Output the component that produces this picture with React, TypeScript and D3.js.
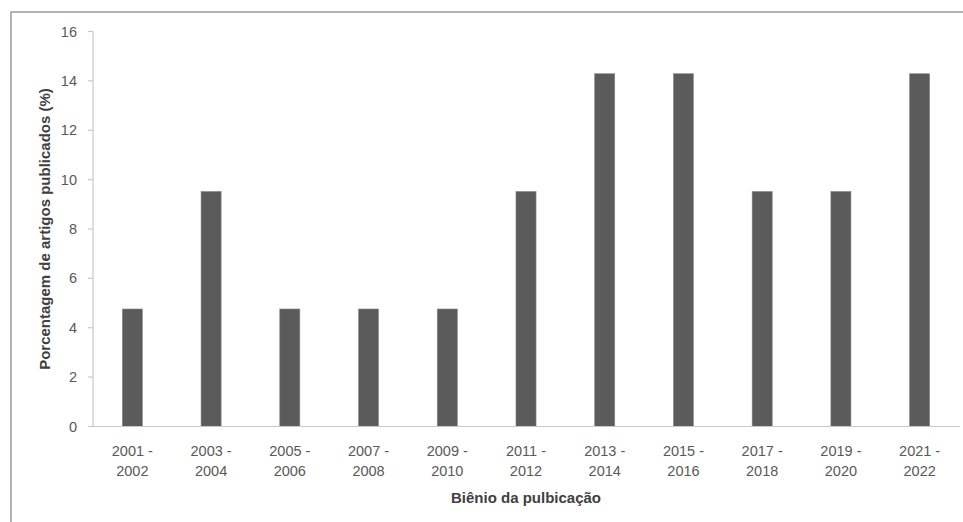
import React from "react";
import * as d3 from "d3";

const categories = [
  ["2001 -", "2002"],
  ["2003 -", "2004"],
  ["2005 -", "2006"],
  ["2007 -", "2008"],
  ["2009 -", "2010"],
  ["2011 -", "2012"],
  ["2013 -", "2014"],
  ["2015 -", "2016"],
  ["2017 -", "2018"],
  ["2019 -", "2020"],
  ["2021 -", "2022"],
];
const values = [4.76, 9.52, 4.76, 4.76, 4.76, 9.52, 14.29, 14.29, 9.52, 9.52, 14.29];
const yTicks = [0, 2, 4, 6, 8, 10, 12, 14, 16];
const xTitle = "Biênio da pulbicação";
const yTitle = "Porcentagem de artigos publicados (%)";

const W = 963;
const H = 522;
const left = 93;
const right = 959;
const top = 31.5;
const bottom = 426.5;
const FONT = "'Liberation Sans', Arial, sans-serif";

export default function App() {
  const keys = categories.map((c) => c.join(" "));
  const x = d3
    .scaleBand<string>()
    .domain(keys)
    .range([left, right])
    .paddingInner(0.745)
    .paddingOuter(0.3725);
  const y = d3.scaleLinear().domain([0, 16]).range([bottom, top]);

  return (
    <svg
      width={W}
      height={H}
      style={{ position: "absolute", left: 0, top: 0, background: "#fff" }}
      fontFamily={FONT}
    >
      <rect x={11} y={12} width={1100} height={700} fill="#fff" stroke="#9a9a9a" strokeWidth={1.5} />
      {/* y axis */}
      <line x1={left} x2={left} y1={top} y2={bottom} stroke="#c8c8c8" strokeWidth={1.2} />
      {yTicks.map((t) => (
        <g key={t}>
          <line x1={left - 5} x2={left} y1={y(t)} y2={y(t)} stroke="#c8c8c8" strokeWidth={1.2} />
          <text x={77} y={y(t)} dy="0.35em" textAnchor="end" fontSize={14.5} fill="#595959">
            {t}
          </text>
        </g>
      ))}
      {/* bars */}
      {values.map((v, i) => (
        <rect
          key={i}
          x={x(keys[i])}
          y={y(v)}
          width={x.bandwidth()}
          height={y(0) - y(v)}
          fill="#5b5b5b"
          stroke="#8a8a8a"
          strokeWidth={0.6}
        />
      ))}
      {/* x axis */}
      <line x1={left} x2={right + 1} y1={bottom} y2={bottom} stroke="#c8c8c8" strokeWidth={1.2} />
      {categories.map((c, i) => {
        const cx = (x(keys[i]) as number) + x.bandwidth() / 2;
        return (
          <text key={i} x={cx} textAnchor="middle" fontSize={14.5} fill="#595959">
            <tspan x={cx} y={455.5}>{c[0]}</tspan>
            <tspan x={cx} y={475.5}>{c[1]}</tspan>
          </text>
        );
      })}
      <text
        x={(left + right) / 2}
        y={503}
        textAnchor="middle"
        fontSize={15}
        fontWeight="bold"
        fill="#404040"
      >
        {xTitle}
      </text>
      <text
        transform={`translate(50, ${(top + bottom) / 2}) rotate(-90)`}
        textAnchor="middle"
        fontSize={15}
        fontWeight="bold"
        fill="#404040"
      >
        {yTitle}
      </text>
    </svg>
  );
}
